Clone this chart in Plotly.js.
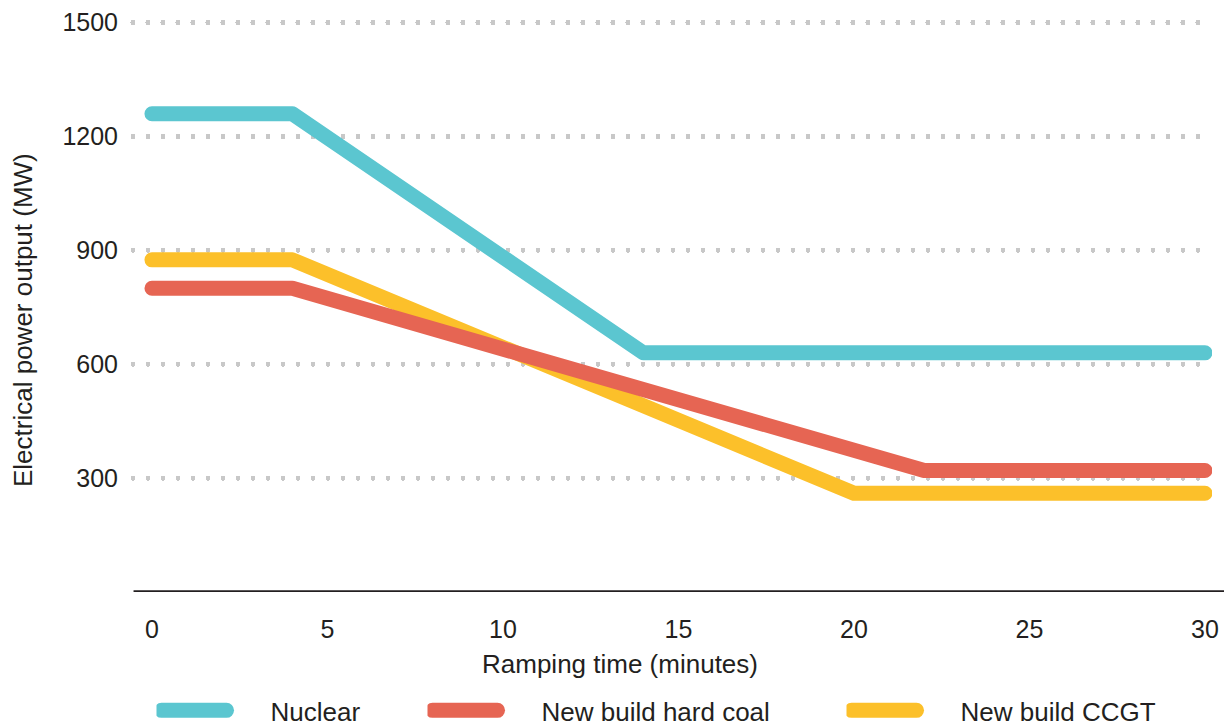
<!DOCTYPE html>
<html>
<head>
<meta charset="utf-8">
<script src="https://cdn.plot.ly/plotly-3.0.1.min.js"></script>
<style>
  html, body { margin: 0; padding: 0; background: #ffffff; }
  #chart { width: 1224px; height: 727px; }
  .js-line { stroke-linecap: round !important; stroke-linejoin: round !important; }
  .gridlayer path { stroke-linecap: round !important; }
  g.legendlines .js-line { d: path("M5,0h65"); stroke-width: 15px !important; }
</style>
</head>
<body>
<div id="chart"></div>
<script>
// ---- data ----
const seriesNames = ["Nuclear", "New build hard coal", "New build CCGT"];
const nuclearTime = [0, 4, 14, 30];
const nuclearPower = [1260, 1260, 630, 630];
const coalTime = [0, 4, 22, 30];
const coalPower = [800, 800, 320, 320];
const ccgtTime = [0, 4, 20, 30];
const ccgtPower = [875, 875, 260, 260];
const xTickVals = [0, 5, 10, 15, 20, 25, 30];
const yTickVals = [300, 600, 900, 1200, 1500];
const xTitle = "Ramping time (minutes)";
const yTitle = "Electrical power output (MW)";

const colors = { nuclear: "#5BC6D0", coal: "#E66553", ccgt: "#FCC02A" };
const FONT = "Liberation Sans, Arial, Helvetica, sans-serif";
const LW = 15;
const INK = "#231f20";

const traces = [
  { x: nuclearTime, y: nuclearPower, name: seriesNames[0], type: "scatter", mode: "lines",
    line: { color: colors.nuclear, width: LW }, legend: "legend" },
  { x: ccgtTime, y: ccgtPower, name: seriesNames[2], type: "scatter", mode: "lines",
    line: { color: colors.ccgt, width: LW }, legend: "legend3" },
  { x: coalTime, y: coalPower, name: seriesNames[1], type: "scatter", mode: "lines",
    line: { color: colors.coal, width: LW }, legend: "legend2" }
];

function legendAt(px) {
  return {
    orientation: "h", x: (px - 133) / 1079, xanchor: "left", y: -0.1646, yanchor: "top",
    font: { family: FONT, size: 26, color: INK },
    itemwidth: 104, bgcolor: "rgba(0,0,0,0)", borderwidth: 0
  };
}

const layout = {
  width: 1224, height: 727,
  margin: { l: 133, r: 12, t: 15, b: 135, autoexpand: false },
  paper_bgcolor: "#ffffff", plot_bgcolor: "#ffffff",
  font: { family: FONT, size: 25, color: INK },
  showlegend: true,
  legend: legendAt(156.5),
  legend2: legendAt(427.5),
  legend3: legendAt(846.5),
  xaxis: {
    range: [-0.54, 30.2], tickvals: xTickVals, ticktext: xTickVals.map(String),
    showgrid: false, zeroline: false, showline: false, ticks: "",
    ticklabelstandoff: 20,
    tickfont: { family: FONT, size: 25, color: INK }
  },
  yaxis: {
    range: [0, 1520], tickvals: yTickVals, ticktext: yTickVals.map(String),
    showgrid: true, gridcolor: "#c8c8c8", gridwidth: 5, griddash: "0px,15px",
    zeroline: false, showline: false, ticks: "",
    ticklabelstandoff: 14,
    tickfont: { family: FONT, size: 25, color: INK }
  },
  shapes: [
    { type: "line", xref: "paper", yref: "y", x0: 0.0005, x1: 1.0115, y0: 0, y1: 0,
      line: { color: INK, width: 3.5 }, layer: "above" }
  ],
  annotations: [
    { text: xTitle, xref: "paper", yref: "paper", x: (620 - 133) / 1079, y: 0,
      xanchor: "center", yanchor: "middle", yshift: -72, showarrow: false,
      font: { family: FONT, size: 26, color: INK } },
    { text: yTitle, xref: "paper", yref: "paper", x: 0, y: (592 - 320) / 577,
      xanchor: "center", yanchor: "middle", xshift: -110, textangle: -90, showarrow: false,
      font: { family: FONT, size: 26, color: INK } }
  ]
};

Plotly.newPlot("chart", traces, layout, { displayModeBar: false, staticPlot: true });
</script>
</body>
</html>
